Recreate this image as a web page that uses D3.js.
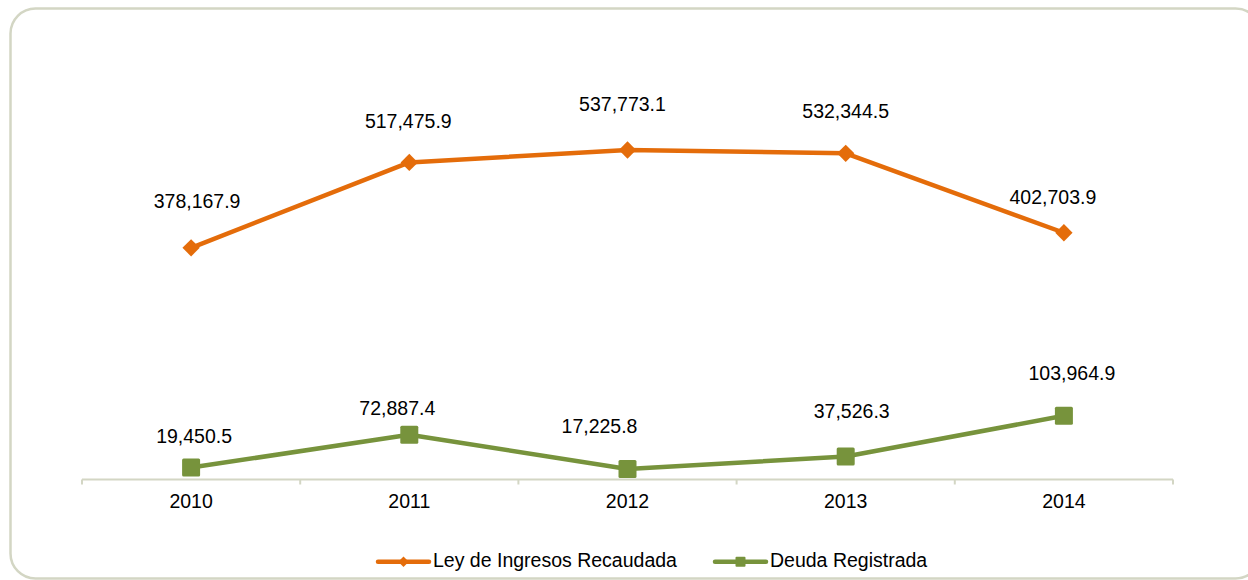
<!DOCTYPE html>
<html>
<head>
<meta charset="utf-8">
<script src="https://cdn.jsdelivr.net/npm/d3@7"></script>
<style>
  html, body { margin: 0; padding: 0; background: #fff; }
  svg { display: block; font-family: "Liberation Sans", Arial, sans-serif; }
</style>
</head>
<body>
<svg id="chart"></svg>
<script>
// data
const years = ['2010', '2011', '2012', '2013', '2014'];
const ingresos = [378167.9, 517475.9, 537773.1, 532344.5, 402703.9];
const deuda = [19450.5, 72887.4, 17225.8, 37526.3, 103964.9];
const seriesNames = ['Ley de Ingresos Recaudada', 'Deuda Registrada'];

// label nudges (dx, dy from the point), labels were moved by hand in the original
const ingresosNudge = [[6, -40], [-1, -34], [-5, -39], [0, -35], [-11, -29]];
const deudaNudge = [[3, -25], [-12, -20], [-28, -36], [6, -39], [8, -36]];

const width = 1248, height = 580;
const margin = {top: 112, right: 75, bottom: 100.5, left: 82};
const fontSize = '19.5px';
const orange = '#e46c0a';
const green = '#77933c';
const frame = '#d3d6c4';

const svg = d3.select('#chart')
    .attr('width', width)
    .attr('height', height);

// rounded frame, runs past the right and bottom edge
svg.append('rect')
    .attr('x', 10.5)
    .attr('y', 8.5)
    .attr('width', 1250)
    .attr('height', 570)
    .attr('rx', 25)
    .attr('fill', 'none')
    .attr('stroke', frame)
    .attr('stroke-width', 2.5);

const innerBottom = height - margin.bottom;

const xband = d3.scaleBand()
    .domain(years)
    .range([margin.left, width - margin.right]);

const xscale = d3.scalePoint()
    .domain(years)
    .range([margin.left, width - margin.right])
    .padding(0.5);

const yscale = d3.scaleLinear()
    .domain([0, 600000])
    .range([innerBottom, innerBottom - 600000 * 329.5 / 537773.1]);

// category axis with ticks between categories
const axis = svg.append('g');
axis.append('line')
    .attr('x1', xband.range()[0])
    .attr('x2', xband.range()[1])
    .attr('y1', innerBottom)
    .attr('y2', innerBottom)
    .attr('stroke', frame)
    .attr('stroke-width', 2);

const bounds = years.map(d => xband(d)).concat([xband.range()[1]]);
axis.selectAll('.tick')
    .data(bounds)
    .join('line')
    .attr('x1', d => d)
    .attr('x2', d => d)
    .attr('y1', innerBottom)
    .attr('y2', innerBottom + 5)
    .attr('stroke', frame)
    .attr('stroke-width', 2);

axis.selectAll('.lbl')
    .data(years)
    .join('text')
    .attr('x', d => xscale(d))
    .attr('y', innerBottom + 28.5)
    .attr('text-anchor', 'middle')
    .style('font-size', fontSize)
    .attr('fill', '#000')
    .text(d => d);

const line = d3.line()
    .x((d, i) => xscale(years[i]))
    .y(d => yscale(d));

function drawSeries(values, color, shape, nudge) {
    const g = svg.append('g');
    g.append('path')
        .datum(values)
        .attr('d', line)
        .attr('fill', 'none')
        .attr('stroke', color)
        .attr('stroke-width', 4.5)
        .attr('stroke-linejoin', 'round');

    const sym = shape === 'diamond'
        ? d3.symbol().type(d3.symbolSquare).size(150)
        : null;

    if (shape === 'diamond') {
        g.selectAll('.mark')
            .data(values)
            .join('path')
            .attr('d', sym)
            .attr('transform', (d, i) => `translate(${xscale(years[i])},${yscale(d)}) rotate(45)`)
            .attr('fill', color);
    } else {
        g.selectAll('.mark')
            .data(values)
            .join('rect')
            .attr('x', (d, i) => xscale(years[i]) - 9)
            .attr('y', d => yscale(d) - 9)
            .attr('width', 18)
            .attr('height', 18)
            .attr('rx', 1.5)
            .attr('fill', color);
    }

    g.selectAll('.val')
        .data(values)
        .join('text')
        .attr('x', (d, i) => xscale(years[i]) + nudge[i][0])
        .attr('y', (d, i) => yscale(d) + nudge[i][1])
        .attr('text-anchor', 'middle')
        .style('font-size', fontSize)
        .attr('fill', '#000')
        .text(d => d3.format(',.1f')(d));
}

drawSeries(ingresos, orange, 'diamond', ingresosNudge);
drawSeries(deuda, green, 'square', deudaNudge);

// legend
const legendY = 561.7;
const legendItems = [
    {name: seriesNames[0], color: orange, shape: 'diamond', x: 378},
    {name: seriesNames[1], color: green, shape: 'square', x: 715}
];
const legend = svg.append('g');
legendItems.forEach(item => {
    const lg = legend.append('g');
    lg.append('line')
        .attr('x1', item.x)
        .attr('x2', item.x + 51)
        .attr('y1', legendY)
        .attr('y2', legendY)
        .attr('stroke', item.color)
        .attr('stroke-width', 4.5)
        .attr('stroke-linecap', 'round');
    if (item.shape === 'diamond') {
        lg.append('path')
            .attr('d', d3.symbol().type(d3.symbolSquare).size(55)())
            .attr('transform', `translate(${item.x + 25.5},${legendY}) rotate(45)`)
            .attr('fill', item.color);
    } else {
        lg.append('rect')
            .attr('x', item.x + 25.5 - 5)
            .attr('y', legendY - 5)
            .attr('width', 10)
            .attr('height', 10)
            .attr('rx', 1)
            .attr('fill', item.color);
    }
    lg.append('text')
        .attr('x', item.x + 55)
        .attr('y', legendY + 5)
        .style('font-size', fontSize)
        .attr('fill', '#000')
        .text(item.name);
});
</script>
</body>
</html>
